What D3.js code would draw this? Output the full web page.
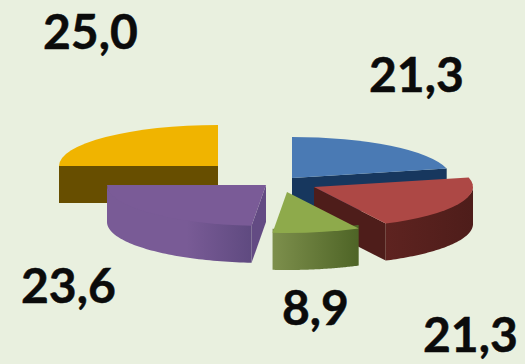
<!DOCTYPE html>
<html>
<head>
<meta charset="utf-8">
<style>
  html, body { margin: 0; padding: 0; background: #e9f0df; }
  svg { display: block; }
  text { font-family: Lato, "Open Sans", sans-serif; font-weight: 700; fill: #0b0b0b; stroke: #0b0b0b; stroke-width: 0.5px; }
</style>
<script src="https://cdn.jsdelivr.net/npm/d3@7"></script>
</head>
<body>
<script>
// Slice values clockwise from twelve o'clock
const sliceNames = ["a", "b", "c", "d", "e"];
const sliceValues = [21.3, 21.3, 8.9, 23.6, 25.0];
const valueLabels = ["21,3", "21,3", "8,9", "23,6", "25,0"];

// Surface colours per slice
const topColors = ["#4a7ab4", "#ad4845", "#8eaa4b", "#7a5b97", "#f0b400"];
const wallLightColors = ["#1c3a60", "#5e2320", "#7d8f4c", "#795b96", "#674e00"];
const wallDarkColors = ["#17335a", "#4e1d1a", "#4e6426", "#5f4a80", "#674e00"];
const radialWallColors = ["#17375e", "#4e1d1a", "#4e6426", "#634b83", "#674e00"];

// Exploded offset of each slice's tip from the pie centre
const explodeX = [37, 59, 32, 11, -37];
const explodeY = [2, 11, 16, 9, -10];

// Label anchors, paint order
const labelX = [369, 423, 282, 21, 43];
const labelY = [92, 352, 325, 303, 49];
const paintOrder = [4, 0, 1, 3, 2];

const width = 525, height = 364;
const centerX = 255, centerY = 176;
const radiusX = 159, radiusY = 41, depth = 37;

const svg = d3.select("body").append("svg")
  .attr("width", width).attr("height", height);
const defs = svg.append("defs");

const pie = d3.pie().sort(null).value(d => d);
const slices = pie(sliceValues);
const arcTop = d3.arc().innerRadius(0).outerRadius(radiusX);

// Project a pie angle (0 = up, clockwise) onto the tilted ellipse
const px = a => radiusX * Math.sin(a);
const py = a => -radiusY * Math.cos(a);

// The wall's upper edge tucks slightly under the top face so no seam shows
const wallArea = d3.area().x(a => px(a)).y0(a => py(a) * 0.9).y1(a => py(a) + depth);
const quad = d3.line();

paintOrder.forEach(i => {
  const s = slices[i];
  const g = svg.append("g")
    .attr("transform", `translate(${centerX + explodeX[i]},${centerY + explodeY[i]})`);

  // Flat walls along the cut edges, only those turned toward the viewer
  const cutWalls = [];
  if (Math.sin(s.endAngle) > 0) cutWalls.push(s.endAngle);
  if (Math.sin(s.startAngle) < 0) cutWalls.push(s.startAngle);
  cutWalls.forEach(a => {
    g.append("path")
      .attr("d", quad([[0, 0], [px(a), py(a)], [px(a), py(a) + depth], [0, depth]]) + "Z")
      .attr("fill", radialWallColors[i]);
  });

  // Curved outer wall, only the part that faces the viewer
  const from = Math.max(s.startAngle, Math.PI / 2);
  const to = Math.min(s.endAngle, 3 * Math.PI / 2);
  if (to > from) {
    const id = "wall-" + sliceNames[i];
    const grad = defs.append("linearGradient").attr("id", id)
      .attr("gradientUnits", "userSpaceOnUse")
      .attr("x1", i === 1 ? px(to) : px(from)).attr("x2", i === 1 ? px(from) : px(to))
      .attr("y1", 0).attr("y2", 0);
    if (i === 3) {
      // The purple wall darkens toward its right-hand end
      grad.append("stop").attr("offset", 0).attr("stop-color", wallDarkColors[i]);
      grad.append("stop").attr("offset", 0.45).attr("stop-color", wallLightColors[i]);
      grad.append("stop").attr("offset", 1).attr("stop-color", wallLightColors[i]);
    } else {
      grad.append("stop").attr("offset", 0).attr("stop-color", i === 2 ? wallDarkColors[i] : wallLightColors[i]);
      grad.append("stop").attr("offset", 1).attr("stop-color", i === 2 ? wallLightColors[i] : wallDarkColors[i]);
    }
    g.append("path")
      .attr("d", wallArea(d3.range(0, 61).map(k => from + (to - from) * k / 60)))
      .attr("fill", `url(#${id})`);
  }

  // Top face: an ordinary arc squashed into the tilted plane
  g.append("path")
    .attr("d", arcTop(s))
    .attr("transform", `scale(1,${radiusY / radiusX})`)
    .attr("fill", topColors[i]);
});

// Value labels
svg.selectAll("text.value").data(valueLabels).join("text")
  .attr("class", "value")
  .attr("x", (d, i) => labelX[i])
  .attr("y", (d, i) => labelY[i])
  .attr("font-size", 48)
  .text(d => d);
</script>
</body>
</html>
